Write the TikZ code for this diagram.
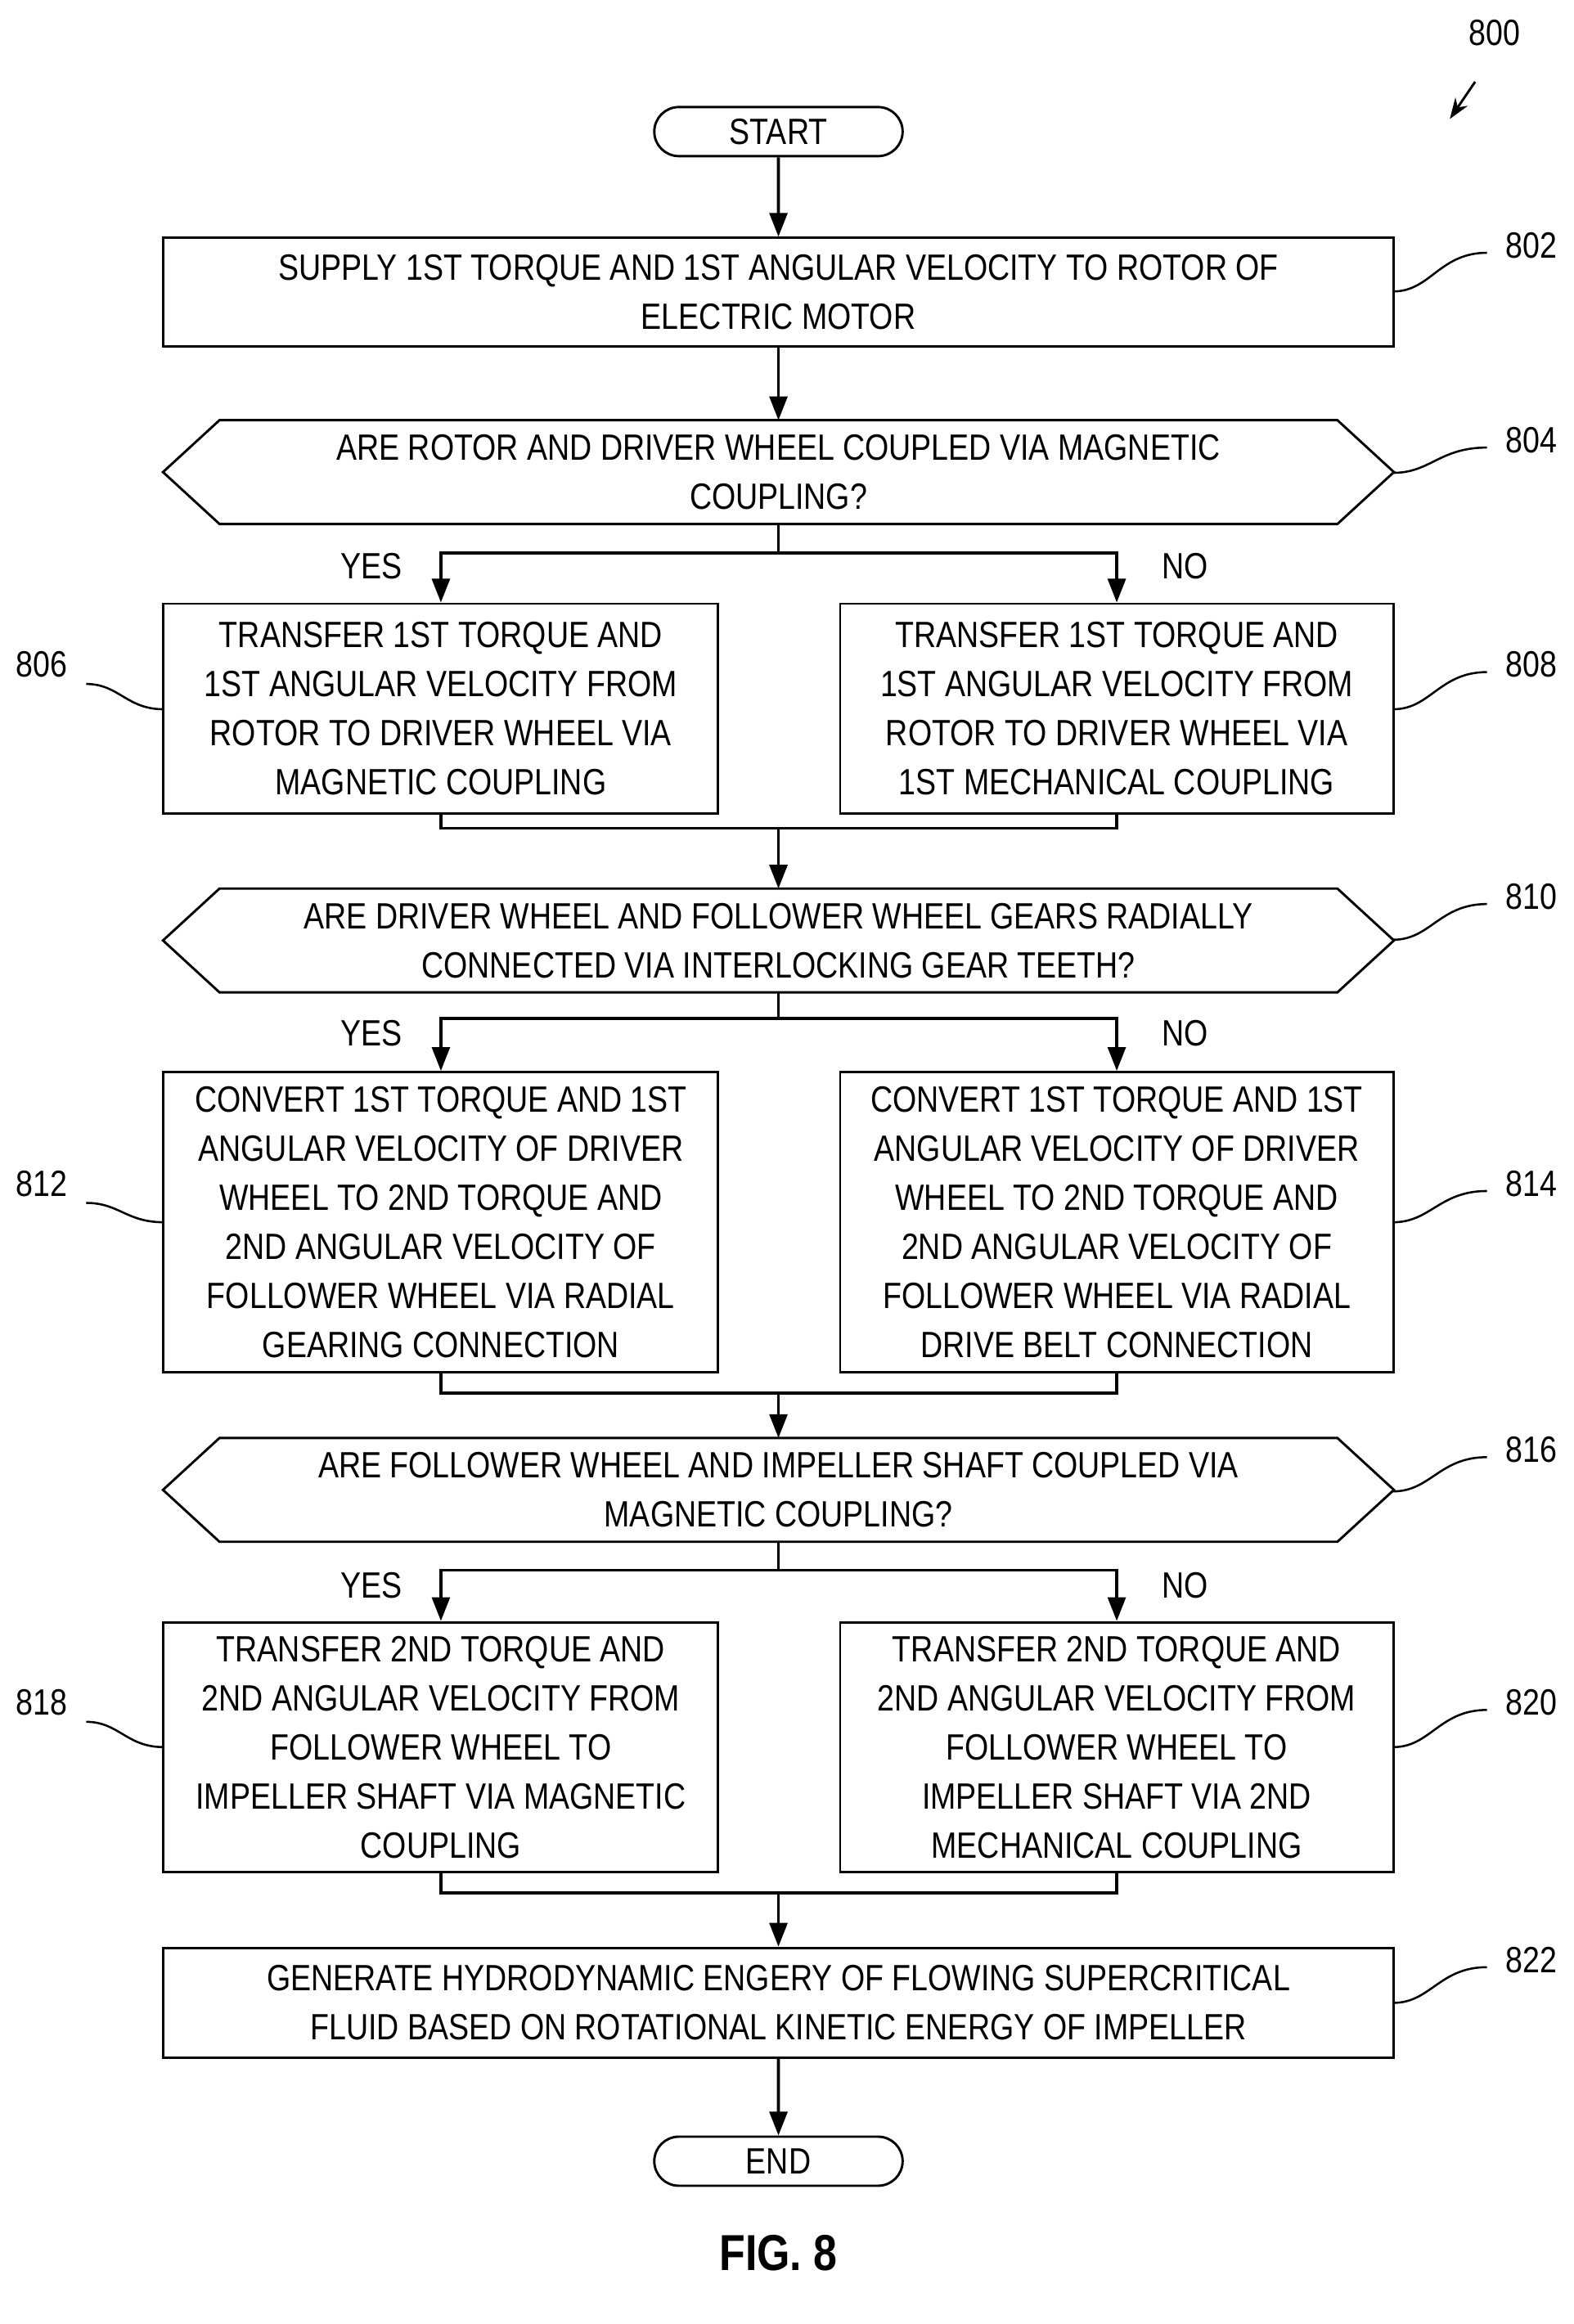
\documentclass[tikz,border=0pt]{standalone}
\usepackage{fontspec}
\setmainfont{Liberation Sans}[FakeStretch=0.84]
\usetikzlibrary{arrows.meta,shapes.misc}
\begin{document}
\begin{tikzpicture}[x=0.5pt,y=-0.5pt,
  every node/.style={font=\fontsize{12.3}{16.5}\selectfont,align=center,inner sep=0pt},
  box/.style={draw,line width=0.8pt,minimum width=#1*0.5pt},
  term/.style={draw,line width=0.8pt,rounded rectangle,minimum width=83.5pt,minimum height=16.5pt},
  arr/.style={line width=1pt,-{Triangle[length=8pt,width=6pt]}},
  ln/.style={line width=1pt},
  lead/.style={line width=0.7pt},
  dec/.style={minimum width=413.5pt,minimum height=34.5pt},
  hexa/.style={draw,line width=0.8pt}]
\useasboundingbox (0,0) rectangle (1058,1563);
\newcommand{\hexdraw}[1]{\draw[hexa] (#1.west) -- ([xshift=19pt]#1.north west) -- ([xshift=-19pt]#1.north east) -- (#1.east) -- ([xshift=-19pt]#1.south east) -- ([xshift=19pt]#1.south west) -- cycle;}
\node[term] (start) at (523.5,88.5) {START};
\node[box=827,minimum height=36.5pt] (b802) at (523.5,196.5) {SUPPLY 1ST TORQUE AND 1ST ANGULAR VELOCITY TO ROTOR OF\\ELECTRIC MOTOR};
\node[dec] (d804) at (523.5,317.5) {ARE ROTOR AND DRIVER WHEEL COUPLED VIA MAGNETIC\\COUPLING?};
\hexdraw{d804}
\node[box=373,minimum height=70.5pt] (b806) at (296.5,476.5) {TRANSFER 1ST TORQUE AND\\1ST ANGULAR VELOCITY FROM\\ROTOR TO DRIVER WHEEL VIA\\MAGNETIC COUPLING};
\node[box=372,minimum height=70.5pt] (b808) at (751,476.5) {TRANSFER 1ST TORQUE AND\\1ST ANGULAR VELOCITY FROM\\ROTOR TO DRIVER WHEEL VIA\\1ST MECHANICAL COUPLING};
\node[dec] (d810) at (523.5,632.5) {ARE DRIVER WHEEL AND FOLLOWER WHEEL GEARS RADIALLY\\CONNECTED VIA INTERLOCKING GEAR TEETH?};
\hexdraw{d810}
\node[box=373,minimum height=101pt] (b812) at (296.5,822) {CONVERT 1ST TORQUE AND 1ST\\ANGULAR VELOCITY OF DRIVER\\WHEEL TO 2ND TORQUE AND\\2ND ANGULAR VELOCITY OF\\FOLLOWER WHEEL VIA RADIAL\\GEARING CONNECTION};
\node[box=372,minimum height=101pt] (b814) at (751,822) {CONVERT 1ST TORQUE AND 1ST\\ANGULAR VELOCITY OF DRIVER\\WHEEL TO 2ND TORQUE AND\\2ND ANGULAR VELOCITY OF\\FOLLOWER WHEEL VIA RADIAL\\DRIVE BELT CONNECTION};
\node[dec] (d816) at (523.5,1002) {ARE FOLLOWER WHEEL AND IMPELLER SHAFT COUPLED VIA\\MAGNETIC COUPLING?};
\hexdraw{d816}
\node[box=373,minimum height=84pt] (b818) at (296.5,1175) {TRANSFER 2ND TORQUE AND\\2ND ANGULAR VELOCITY FROM\\FOLLOWER WHEEL TO\\IMPELLER SHAFT VIA MAGNETIC\\COUPLING};
\node[box=372,minimum height=84pt] (b820) at (751,1175) {TRANSFER 2ND TORQUE AND\\2ND ANGULAR VELOCITY FROM\\FOLLOWER WHEEL TO\\IMPELLER SHAFT VIA 2ND\\MECHANICAL COUPLING};
\node[box=827,minimum height=37pt] (b822) at (523.5,1347) {GENERATE HYDRODYNAMIC ENGERY OF FLOWING SUPERCRITICAL\\FLUID BASED ON ROTATIONAL KINETIC ENERGY OF IMPELLER};
\node[term] (end) at (523.5,1453.5) {END};
% main arrows
\draw[arr] (start) -- (b802);
\draw[arr] (b802) -- (d804);
\coordinate (s1) at (523.5,372);
\draw[ln] (d804.south) -- (s1);
\draw[arr] (s1) -| (b806.north);
\draw[arr] (s1) -| (b808.north);
\coordinate (m1) at (523.5,557);
\draw[ln] (b806.south) |- (m1) -| (b808.south);
\draw[arr] (m1) -- (d810.north);
\coordinate (s2) at (523.5,685);
\draw[ln] (d810.south) -- (s2);
\draw[arr] (s2) -| (b812.north);
\draw[arr] (s2) -| (b814.north);
\coordinate (m2) at (523.5,937);
\draw[ln] (b812.south) |- (m2) -| (b814.south);
\draw[arr] (m2) -- (d816.north);
\coordinate (s3) at (523.5,1056);
\draw[ln] (d816.south) -- (s3);
\draw[arr] (s3) -| (b818.north);
\draw[arr] (s3) -| (b820.north);
\coordinate (m3) at (523.5,1273);
\draw[ln] (b818.south) |- (m3) -| (b820.south);
\draw[arr] (m3) -- (b822.north);
\draw[arr] (b822) -- (end);
% yes/no
\node (y1) at (250,381) {YES}; \node (n1) at (797,381) {NO};
\node (y2) at (250,695) {YES}; \node (n2) at (797,695) {NO};
\node (y3) at (250,1066) {YES}; \node (n3) at (797,1066) {NO};
% reference numerals
\node (r800) at (1005,22) {800};
\coordinate (a800s) at (992,55);
\coordinate (a800e) at (975,80);
\draw[line width=0.8pt,-{Stealth[length=7pt,width=5pt]}] (a800s) -- (a800e);
\foreach \n/\y/\ly in {802/196/165,804/318/296,808/477/447,810/632/603,814/822/796,816/1003/975,820/1175/1145,822/1347/1318}{
  \node (r\n) at (1030,\ly) {\n};
  \coordinate (q\n) at (937,\y);
  \draw[lead] (q\n) .. controls (962,\y) and (968,\ly+5) .. (1000,\ly+5);
}
\foreach \n/\y/\ly in {806/477/447,812/822/796,818/1175/1145}{
  \node (r\n) at (28,\ly) {\n};
  \coordinate (q\n) at (110,\y);
  \draw[lead] (q\n) .. controls (85,\y) and (80,\ly+13) .. (58,\ly+13);
}
\node[font=\bfseries\fontsize{17}{20}\selectfont] (fig) at (523.5,1515) {FIG. 8};
\end{tikzpicture}
\end{document}
